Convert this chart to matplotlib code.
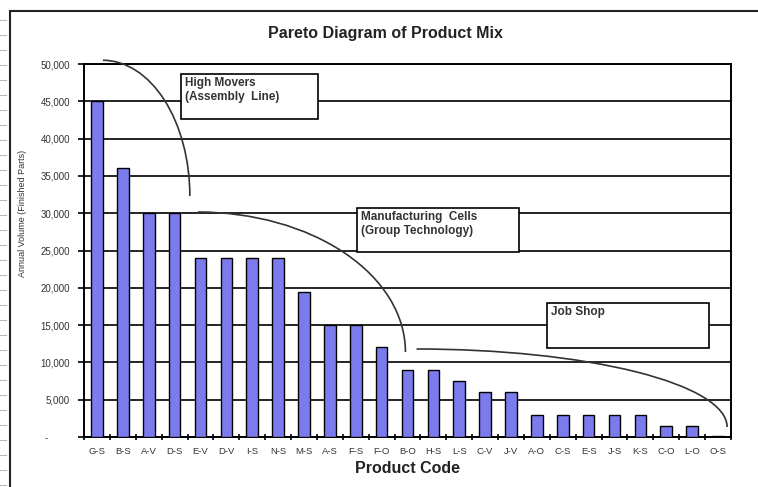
import numpy as np
import matplotlib.pyplot as plt
from matplotlib.patches import Arc, Rectangle
from matplotlib.ticker import FuncFormatter

plt.rcParams['font.family'] = ['Liberation Sans', 'DejaVu Sans']

# data
products = ["G-S", "B-S", "A-V", "D-S", "E-V", "D-V", "I-S", "N-S", "M-S", "A-S",
            "F-S", "F-O", "B-O", "H-S", "L-S", "C-V", "J-V", "A-O", "C-S", "E-S",
            "J-S", "K-S", "C-O", "L-O", "O-S"]
volumes = [45000, 36000, 30000, 30000, 24000, 24000, 24000, 24000, 19500, 15000,
           15000, 12000, 9000, 9000, 7500, 6000, 6000, 3000, 3000, 3000,
           3000, 3000, 1500, 1500, 200]
yticks = np.arange(0, 50001, 5000)

fig = plt.figure(figsize=(7.58, 4.87), dpi=100)
ax = fig.add_axes([84 / 758, 1 - 437 / 487, (731 - 84) / 758, (437 - 64) / 487])

x = np.arange(len(products))
ax.bar(x, volumes, width=0.45, color="#7b7bee", edgecolor="black", linewidth=1.0, zorder=3)

ax.set_xlim(-0.5, len(products) - 0.5)
ax.set_ylim(0, 50000)
ax.set_yticks(yticks)
# excel accounting style: zero shown as a dash
ax.yaxis.set_major_formatter(FuncFormatter(lambda v, p: "-        " if v == 0 else f"{int(v):,}"))
ax.yaxis.grid(True, color="black", linewidth=1.2, zorder=1)
ax.set_axisbelow(True)

# ticks between categories on x
ax.set_xticks(np.arange(-0.5, len(products), 1.0))
ax.set_xticklabels([])
ax.set_xticks(x, minor=True)
ax.set_xticklabels(products, minor=True, fontsize=6.8, color="#333333")
ax.tick_params(axis="x", which="major", direction="inout", length=5, width=1.2)
ax.tick_params(axis="x", which="minor", length=0, pad=7)
ax.tick_params(axis="y", direction="out", length=4, width=1.2, labelsize=7,
               labelcolor="#333333", pad=6)
for s in ax.spines.values():
    s.set_linewidth(1.4)

ax.set_xlabel("Product Code", fontsize=11.5, fontweight="bold", labelpad=4, color="#222222")
fig.text(23 / 758, 1 - 213 / 487, "Annual Volume (Finished Parts)", rotation=90,
         fontsize=6.5, ha="center", va="center", color="#333333")
fig.text(385 / 758, 1 - 33 / 487, "Pareto Diagram of Product Mix", fontsize=11.5,
         fontweight="bold", ha="center", va="center", color="#222222")

# grouping arcs
arcs = [((0.23, 32300), 6.72, 36400),
        ((3.90, 11394), 16.04, 37532),
        ((12.35, 1340), 24.0, 20912)]
for c, w, h in arcs:
    ax.add_patch(Arc(c, w, h, theta1=0, theta2=90, color="#333333", lw=1.2,
                     clip_on=False, zorder=5))

# label boxes (pixel positions converted to axes fraction)
def px_box(x0, y0, x1, y1, text):
    ax0, ax1 = 84, 731
    ay0, ay1 = 64, 437
    fx = (x0 - ax0) / (ax1 - ax0)
    fy = 1 - (y1 - ay0) / (ay1 - ay0)
    fw = (x1 - x0) / (ax1 - ax0)
    fh = (y1 - y0) / (ay1 - ay0)
    ax.add_patch(Rectangle((fx, fy), fw, fh, transform=ax.transAxes, facecolor="white",
                           edgecolor="black", lw=1.2, zorder=6))
    ax.text(fx + 4 / (ax1 - ax0), fy + fh - 3 / (ay1 - ay0), text, transform=ax.transAxes,
            ha="left", va="top", fontsize=8.5, fontweight="bold", color="#333333",
            linespacing=1.25, zorder=7)

px_box(181, 74, 318, 119, "High Movers\n(Assembly  Line)")
px_box(357, 208, 519, 252, "Manufacturing  Cells\n(Group Technology)")
px_box(547, 303, 709, 348, "Job Shop")

# outer frame and ruler marks
fig.patches.append(Rectangle((10 / 758, -0.1), 1.2, 1.1 - 11 / 487, transform=fig.transFigure,
                             fill=False, edgecolor="#222222", lw=1.5))
for yy in range(20, 487, 15):
    fig.add_artist(plt.Line2D([0, 6 / 758], [1 - yy / 487] * 2, transform=fig.transFigure,
                              color="#bbbbbb", lw=0.8))

fig.savefig("out.png", dpi=100)
